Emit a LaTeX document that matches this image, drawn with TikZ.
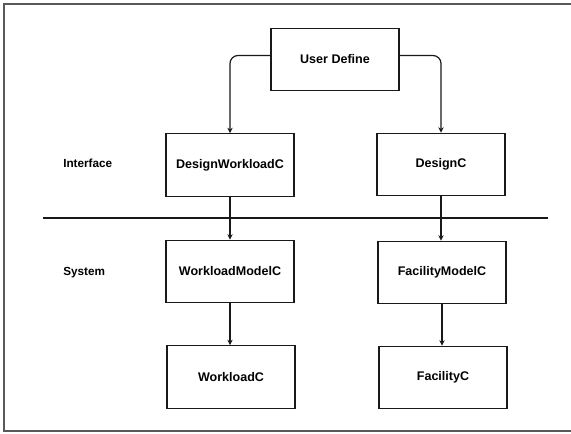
\documentclass[tikz,border=0pt]{standalone}
\usepackage{fontspec}
\setmainfont{Liberation Sans}
\usetikzlibrary{arrows.meta}
\begin{document}
\begin{tikzpicture}[x=0.75pt,y=-0.75pt,
  box/.style={draw=black!90, line width=0.9pt, minimum width=96pt, minimum height=47pt,
              inner sep=0pt, font=\fontsize{9.4pt}{11pt}\selectfont\bfseries},
  lbl/.style={anchor=west, inner sep=0pt, font=\fontsize{8.8pt}{11pt}\selectfont\bfseries},
  conn/.style={draw=black!90, line width=0.9pt, rounded corners=6pt,
               -{Stealth[length=4pt,width=4pt]}},
  frame/.style={draw=black!65, line width=0.8pt}]
  \useasboundingbox (0,0) rectangle (571,433);

  % outer frame (open on the right)
  \coordinate (ftr) at (571,4);
  \coordinate (ftl) at (4,4);
  \coordinate (fbl) at (4,431);
  \coordinate (fbr) at (571,431);
  \draw[frame] (ftr) -- (ftl) -- (fbl) -- (fbr);

  % boxes
  \node[box] (ud) at (335,59.5) {User Define};
  \node[box] (dw) at (230,165) {DesignWorkloadC};
  \node[box] (dc) at (441,164.5) {DesignC};
  \node[box] (wm) at (230,271.5) {WorkloadModelC};
  \node[box] (fm) at (442,272.5) {FacilityModelC};
  \node[box] (wc) at (231,377) {WorkloadC};
  \node[box] (fc) at (443,377.5) {FacilityC};

  % layer labels
  \node[lbl] (iface) at (63,163) {Interface};
  \node[lbl] (sys) at (63,273) {System};

  % interface / system separator
  \coordinate (sepl) at (43,218);
  \coordinate (sepr) at (548,218);
  \draw[black!90, line width=1.5pt] (sepl) -- (sepr);

  % connectors
  \draw[conn] ([yshift=3pt]ud.west) -| (dw.north);
  \draw[conn] ([yshift=3pt]ud.east) -| (dc.north);
  \draw[conn] (dw.south) -- (wm.north);
  \draw[conn] (dc.south) -- (dc.south |- fm.north);
  \draw[conn] (wm.south) -- (wm.south |- wc.north);
  \draw[conn] (fm.south) -- (fm.south |- fc.north);
\end{tikzpicture}
\end{document}
